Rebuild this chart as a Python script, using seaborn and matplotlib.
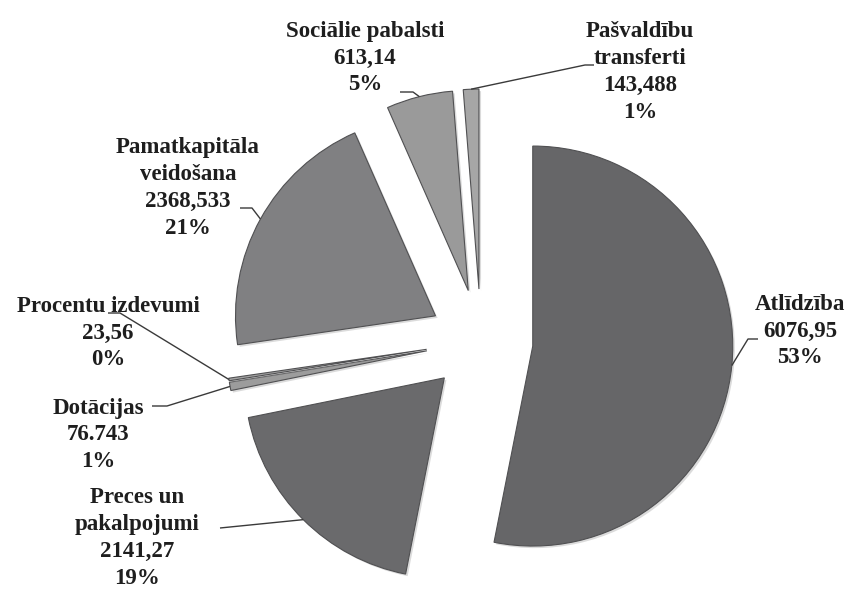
import math

import matplotlib
matplotlib.use('Agg')
import matplotlib.pyplot as plt
import matplotlib.patheffects as pe
import seaborn as sns

# data
categories = ['Atlīdzība', 'Preces un\npakalpojumi', 'Dotācijas', 'Procentu izdevumi',
              'Pamatkapitāla\nveidošana', 'Sociālie pabalsti', 'Pašvaldību\ntransferti']
values = [6076.95, 2141.27, 76.743, 23.56, 2368.533, 613.14, 143.488]
value_labels = ['6076,95', '2141,27', '76.743', '23,56', '2368,533', '613,14', '143,488']
pct_labels = ['53%', '19%', '1%', '0%', '21%', '5%', '1%']

slice_colors = ['#666668', '#6a6a6c', '#9c9c9c', '#a4a4a4', '#808082', '#9a9a9a', '#a6a6a6']

# layout (pixel coords, y from top)
W, H = 848, 593
center = (481, H - 341)
radius = 200
explode = [52, 52, 55, 55, 52, 52, 52]
label_pos = [(800, 331), (137, 538), (98, 435), (108, 333), (188, 188), (365, 58), (640, 72)]
# leader: elbow and end near the text
leader_pts = [
    [(748, 339), (758, 339)],
    [(220, 528)],
    [(167, 406), (152, 406)],
    [(120, 313), (108, 313)],
    [(252, 208), (240, 208)],
    [(413, 92), (400, 92)],
    [(585, 65), (594, 65)],
]

sns.set_theme(style='white')
plt.rcParams['font.family'] = ['Liberation Serif', 'DejaVu Serif']

fig = plt.figure(figsize=(W / 100, H / 100), dpi=100)
ax = fig.add_axes([0, 0, 1, 1])

wedges, _ = ax.pie(
    values,
    explode=explode,
    colors=slice_colors,
    startangle=90,
    counterclock=False,
    radius=radius,
    center=center,
    frame=True,
    wedgeprops={'edgecolor': '#505052', 'linewidth': 0.8},
)
ax.set_xlim(0, W)
ax.set_ylim(0, H)
ax.set_aspect('equal')
ax.axis('off')

for w in wedges:
    w.set_path_effects([pe.SimplePatchShadow(offset=(1.5, -1.5), shadow_rgbFace='#999999', alpha=0.35),
                        pe.Normal()])

for i, w in enumerate(wedges):
    mid = math.radians((w.theta1 + w.theta2) / 2)
    cx, cy = w.center
    arc_pt = (cx + w.r * math.cos(mid), cy + w.r * math.sin(mid))
    pts = [arc_pt] + [(x, H - y) for x, y in leader_pts[i]]
    ax.plot([p[0] for p in pts], [p[1] for p in pts], color='#3a3a3a', lw=1.0,
            solid_capstyle='butt', zorder=3)

    lx, ly = label_pos[i]
    txt = f'{categories[i]}\n{value_labels[i]}\n{pct_labels[i]}'
    ax.text(lx, H - ly, txt, ha='center', va='center', fontsize=16.5,
            fontweight='bold', color='#1e1e1e', linespacing=1.37, zorder=4)

fig.savefig('out.png', dpi=100, facecolor='white')
